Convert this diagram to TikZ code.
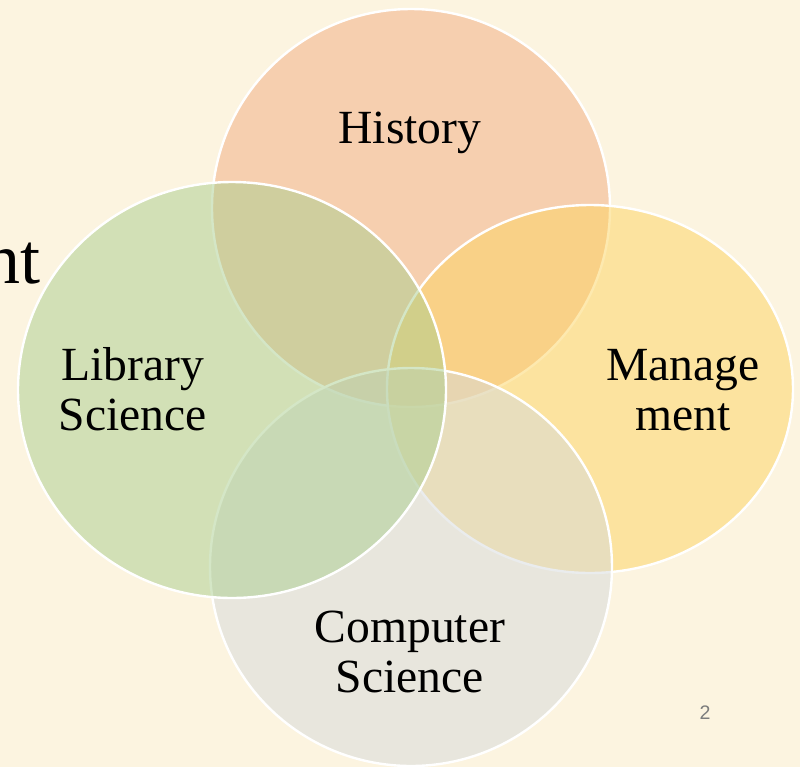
\documentclass[tikz,border=0pt]{standalone}
\usepackage{fontspec}
\setmainfont{Liberation Serif}
\newfontfamily\pagefont{Liberation Sans}
\definecolor{slidebg}{RGB}{252,244,224}
\definecolor{histfill}{RGB}{241,172,128}
\definecolor{mgmtfill}{RGB}{253,212,96}
\definecolor{compfill}{RGB}{214,218,220}
\definecolor{libfill}{RGB}{170,206,142}
\definecolor{pagegray}{RGB}{125,125,125}

\begin{document}
\begin{tikzpicture}[x=0.5pt, y=-0.5pt,
    venn/.style={fill opacity=0.5, draw=white, line width=1.2pt},
    vennlabel/.style={align=center, text=black, font=\fontsize{23.8}{25}\selectfont}]

\useasboundingbox (0,0) rectangle (800,767);
\fill[slidebg] (0,0) rectangle (800,767);
\clip (0,0) rectangle (800,767);

% the four sets, last one on top
\draw[venn, fill=histfill] (411,208) ellipse [x radius=199, y radius=199];
\draw[venn, fill=mgmtfill] (590,389) ellipse [x radius=203, y radius=184];
\draw[venn, fill=compfill] (411,567) ellipse [x radius=201, y radius=199];
\draw[venn, fill=libfill] (232,390) ellipse [x radius=214, y radius=208];

% base of a two line label is its last line
\node[vennlabel, anchor=base] (history) at (410,143) {History};
\node[vennlabel, anchor=base] (library) at (133,430) {Library\\Science};
\node[vennlabel, anchor=base] (management) at (683,430) {Manage\\ment};
\node[vennlabel, anchor=base] (computer) at (410,692) {Computer\\Science};

% rest of the slide
\node[anchor=base east, inner sep=0pt, font=\fontsize{36}{36}\selectfont] (title) at (41,283) {nt};
\node[anchor=base, text=pagegray, font=\pagefont\fontsize{9.8}{10}\selectfont] (pagenum) at (705,719) {2};

\end{tikzpicture}
\end{document}
